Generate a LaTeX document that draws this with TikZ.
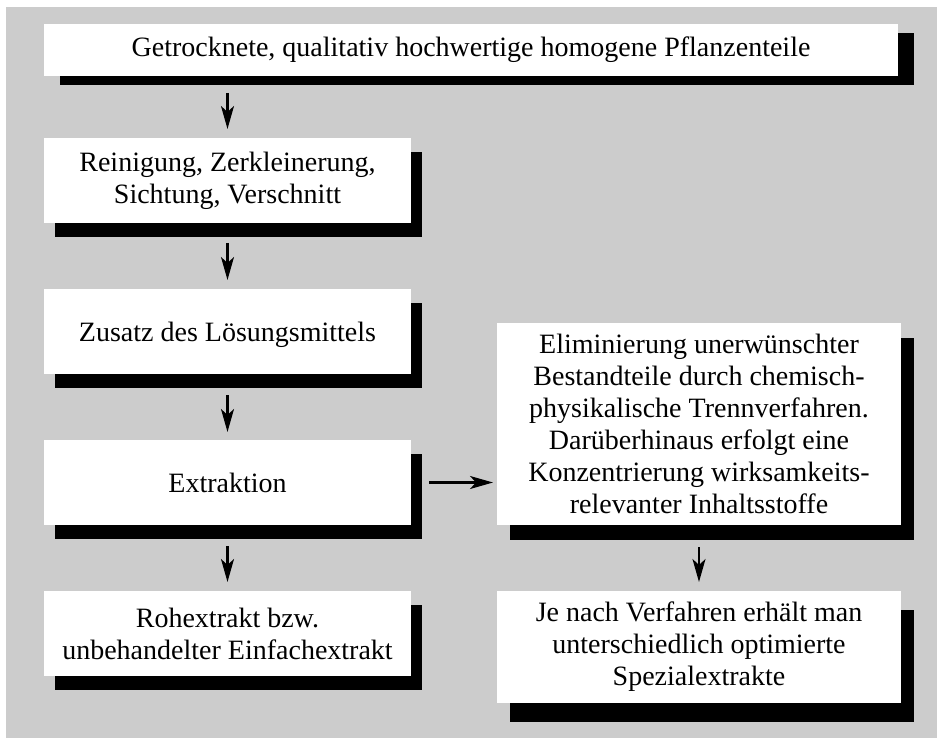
\documentclass[tikz,border=0pt]{standalone}
\usepackage{fontspec}
\setmainfont{Liberation Serif}
\usetikzlibrary{shadows,arrows.meta}
\definecolor{bggray}{RGB}{204,204,204}
\begin{document}
\begin{tikzpicture}[x=1pt,y=-1pt,
  box/.style={fill=white, inner sep=0pt, outer sep=0pt, align=center,
    font=\fontsize{28}{32}\selectfont},
  shad/.style 2 args={drop shadow={shadow xshift=#1pt, shadow yshift=-#2pt, opacity=1, fill=black, shadow scale=1}},
  arr/.style={line width=2.2pt, -{Stealth[length=23pt,width=13pt,inset=6pt]}}]
\useasboundingbox (0,0) rectangle (937,738);
\fill[white] (0,0) rectangle (937,738);
\fill[bggray] (6,7) rectangle (937,738);

\node[box, shad={16}{9}, minimum width=854pt, minimum height=52pt] (b1) at (471,50)
  {Getrocknete, qualitativ hochwertige homogene Pflanzenteile};
\node[box, shad={11}{14}, minimum width=367pt, minimum height=85pt] (b2) at (227.5,180.5)
  {Reinigung, Zerkleinerung,\\Sichtung, Verschnitt};
\node[box, shad={11}{14}, minimum width=367pt, minimum height=85pt] (b3) at (227.5,331.5)
  {Zusatz des Lösungsmittels\\[-32pt]};
\node[box, shad={11}{14}, minimum width=367pt, minimum height=85pt] (b4) at (227.5,482.5)
  {Extraktion};
\node[box, shad={11}{14}, minimum width=367pt, minimum height=85pt] (b5) at (227.5,633.5)
  {Rohextrakt bzw.\\unbehandelter Einfachextrakt};
\node[box, shad={13}{15}, minimum width=404pt, minimum height=202pt] (b6) at (699,424)
  {Eliminierung unerwünschter\\Bestandteile durch chemisch-\\physikalische Trennverfahren.\\Darüberhinaus erfolgt eine\\Konzentrierung wirksamkeits-\\relevanter Inhaltsstoffe};
\node[box, shad={13}{19}, minimum width=404pt, minimum height=112pt] (b7) at (699,647)
  {Je nach Verfahren erhält man\\unterschiedlich optimierte\\Spezialextrakte};

\draw[arr, shorten <=17pt, shorten >=9pt] (b2.north |- b1.south) -- (b2.north);
\draw[arr, shorten <=20pt, shorten >=9pt] (b2.south) -- (b3.north);
\draw[arr, shorten <=21pt, shorten >=8pt] (b3.south) -- (b4.north);
\draw[arr, shorten <=21pt, shorten >=9pt] (b4.south) -- (b5.north);
\draw[arr, shorten <=22pt, shorten >=9pt] (b6.south) -- (b7.north);
\draw[arr, shorten <=18pt, shorten >=4pt] (b4.east) -- (b4.east -| b6.west);
\end{tikzpicture}
\end{document}
